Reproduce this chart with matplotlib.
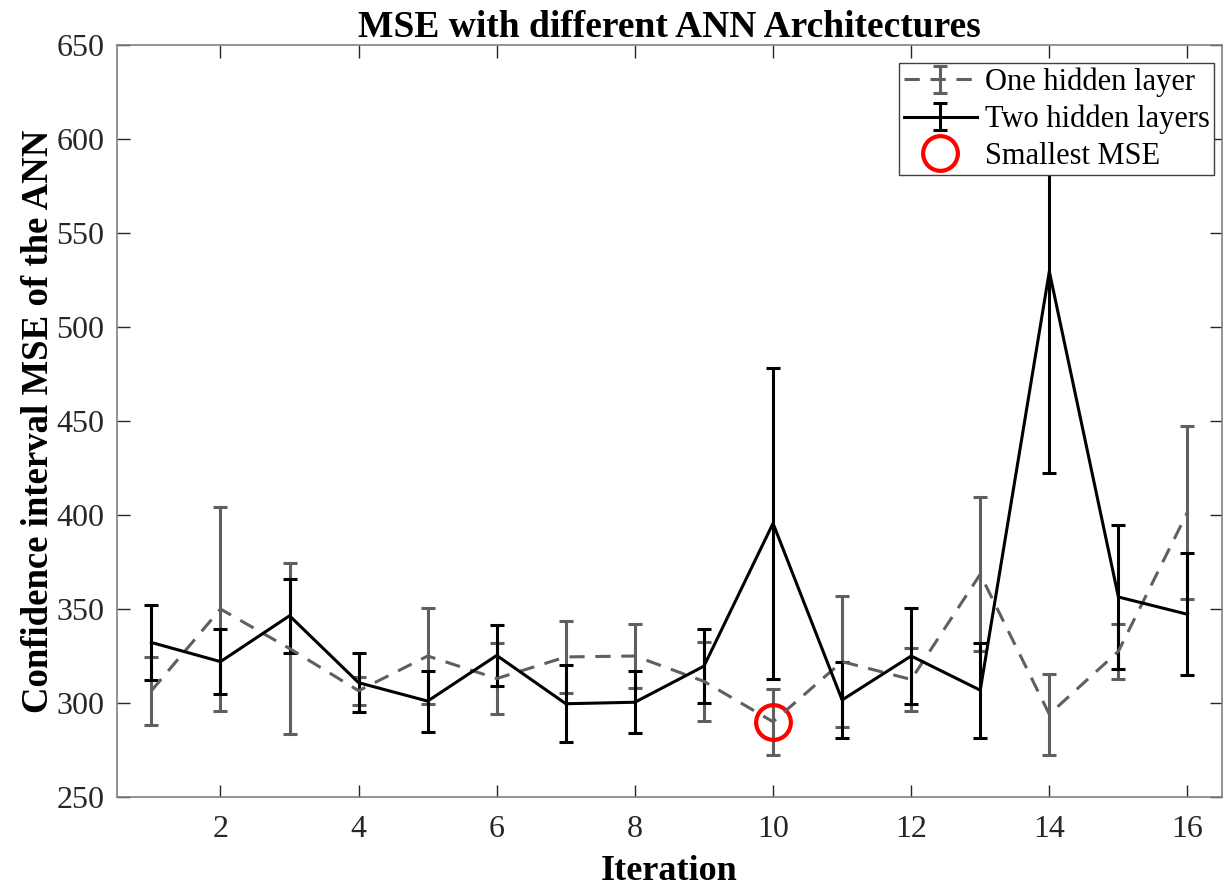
import matplotlib
matplotlib.use("Agg")
import matplotlib.pyplot as plt
from matplotlib.legend_handler import HandlerErrorbar
import numpy as np

iterations = list(range(1, 17))
one_mean = [306.5, 350, 329, 306.5, 325, 313, 324.5, 325, 311.5, 290, 322, 312.5, 368.5, 294, 327.5, 401.5]
one_err = [18, 54.5, 45.5, 7.5, 25.5, 19, 19, 17, 21, 17.5, 35, 17, 41, 21.5, 14.5, 46]
two_mean = [332.2, 322, 346.4, 310.8, 301, 325.3, 299.6, 300.4, 319.6, 395.6, 301.6, 325, 306.8, 529.6, 356.4, 347.2]
two_err = [20, 17.3, 19.7, 15.8, 16.2, 16.3, 20.4, 16.6, 19.8, 82.8, 20.4, 25.8, 25.2, 107.3, 38.3, 32.4]
best_x = [10]
best_y = [290]

plt.rcParams['font.family'] = ['Liberation Serif', 'DejaVu Serif']

fig = plt.figure(figsize=(12.3, 8.86), dpi=100)
ax = fig.add_axes([0.095, 0.1005, 0.8985, 0.8485])

gray = '#5f5f5f'
e1 = ax.errorbar(iterations, one_mean, yerr=one_err, color=gray, lw=2.2,
                 ls=(0, (5, 3.5)), capsize=5, capthick=2.2, elinewidth=2.2,
                 label='One hidden layer')
for b in e1[2]:
    b.set_linestyle('-')
e2 = ax.errorbar(iterations, two_mean, yerr=two_err, color='black', lw=2.2,
                 capsize=5, capthick=2.2, elinewidth=2.2,
                 label='Two hidden layers')
p3, = ax.plot(best_x, best_y, 'o', ms=25, mfc='none', mec='#ff0000', mew=3,
              label='Smallest MSE')

ax.set_xlim(0.5, 16.5)
ax.set_ylim(250, 650)
ax.set_xticks([2, 4, 6, 8, 10, 12, 14, 16])
ax.set_yticks(np.arange(250, 651, 50))
ax.tick_params(direction='in', top=True, right=True, length=9, width=1,
               labelsize=23, colors='#262626')
ax.tick_params(axis='x', pad=13)
ax.tick_params(axis='y', pad=9)
for s in ax.spines.values():
    s.set_color('#808080')
    s.set_linewidth(1.2)

ax.set_title('MSE with different ANN Architectures', fontsize=27,
             fontweight='bold', pad=6)
ax.set_xlabel('Iteration', fontsize=26, fontweight='bold', labelpad=8)
ax.set_ylabel('Confidence interval MSE of the ANN', fontsize=26.5,
              fontweight='bold', labelpad=0)

hm = {e1: HandlerErrorbar(xerr_size=0.25, yerr_size=0.45),
      e2: HandlerErrorbar(xerr_size=0.25, yerr_size=0.45)}
leg = ax.legend([e1, e2, p3], ['One hidden layer', 'Two hidden layers', 'Smallest MSE'],
                loc='upper right', bbox_to_anchor=(1214 / 1230, 1 - 63 / 886),
                bbox_transform=fig.transFigure, borderaxespad=0,
                fontsize=22, frameon=True, fancybox=False,
                framealpha=1, edgecolor='#404040',
                handlelength=2.4, handletextpad=0.25, borderpad=0.15,
                labelspacing=0.25, handler_map=hm)
leg.get_frame().set_linewidth(1.0)
leg.set_zorder(10)

fig.savefig('out.png', dpi=100)
